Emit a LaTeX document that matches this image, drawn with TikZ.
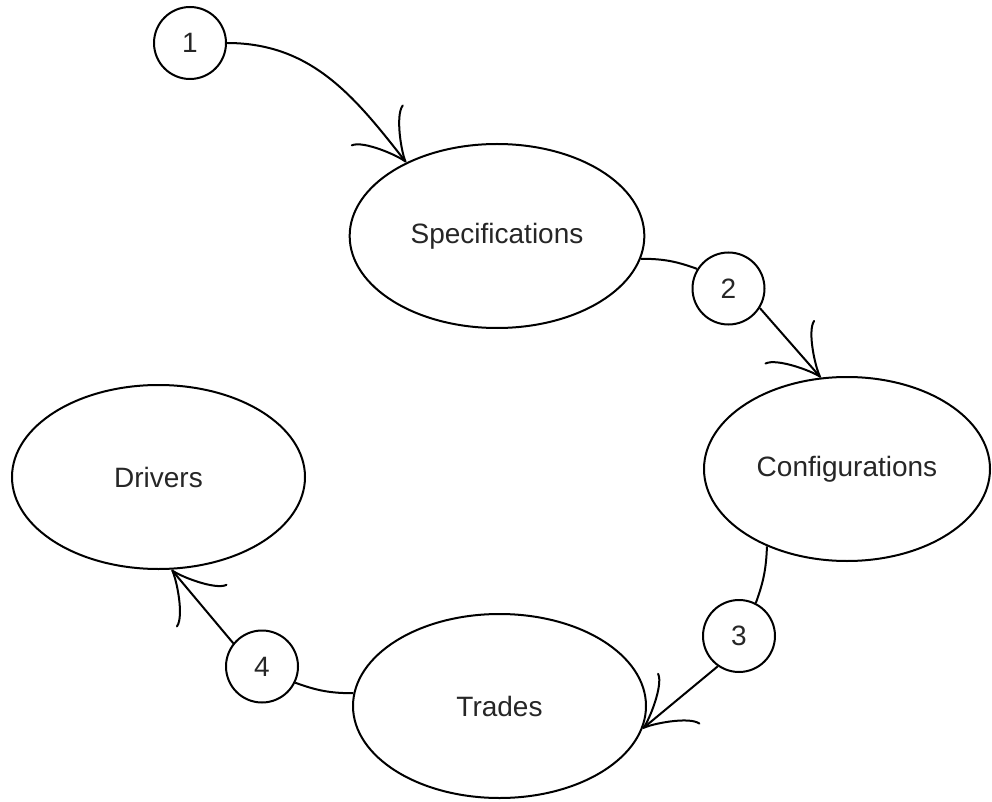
\documentclass[tikz,border=0pt]{standalone}
\usepackage{fontspec}
\setmainfont{Liberation Sans}
\usetikzlibrary{shapes.geometric,arrows.meta}
\begin{document}
\begin{tikzpicture}[x=0.75pt,y=0.75pt,
  every node/.style={font=\fontsize{21pt}{24pt}\selectfont, text=black!85},
  oval/.style={draw, ellipse, inner sep=0pt, minimum height=138pt, line width=1.5pt},
  numc/.style={draw, circle, inner sep=0pt, minimum size=54pt, line width=1.5pt},
  conn/.style={line width=1.5pt},
  arr/.style={conn, -{Classical TikZ Rightarrow[length=36pt,width=50pt,line width=1.5pt]}}]
\useasboundingbox (0,0) rectangle (992,801);
\node[numc] (c1) at (190,758) {1};
\node[oval, minimum width=221pt] (spec) at (497,565) {Specifications};
\node[numc] (c2) at (728.5,512.5) {2};
\node[oval, minimum width=214.5pt] (conf) at (847,332) {Configurations};
\node[numc] (c3) at (739,165) {3};
\node[oval, minimum width=219.75pt] (trades) at (499.5,95) {Trades};
\node[numc] (c4) at (262,134.5) {4};
\node[oval, minimum width=219.75pt] (drivers) at (158.5,324) {Drivers};
\draw[arr] (c1.east) to[out=0,in=128] (spec.141);
\draw[conn] (spec.-9) to[out=0,in=160] (c2.148);
\draw[arr] (c2.-32) -- (conf.106);
\draw[conn] (conf.-136) to[out=-92,in=70] (c3.63);
\draw[arr] (c3.-125) -- (trades.-9);
\draw[conn] (trades.175) to[out=180,in=-20] (c4.-26);
\draw[arr] (c4.141) -- (drivers.-82);
\end{tikzpicture}
\end{document}
